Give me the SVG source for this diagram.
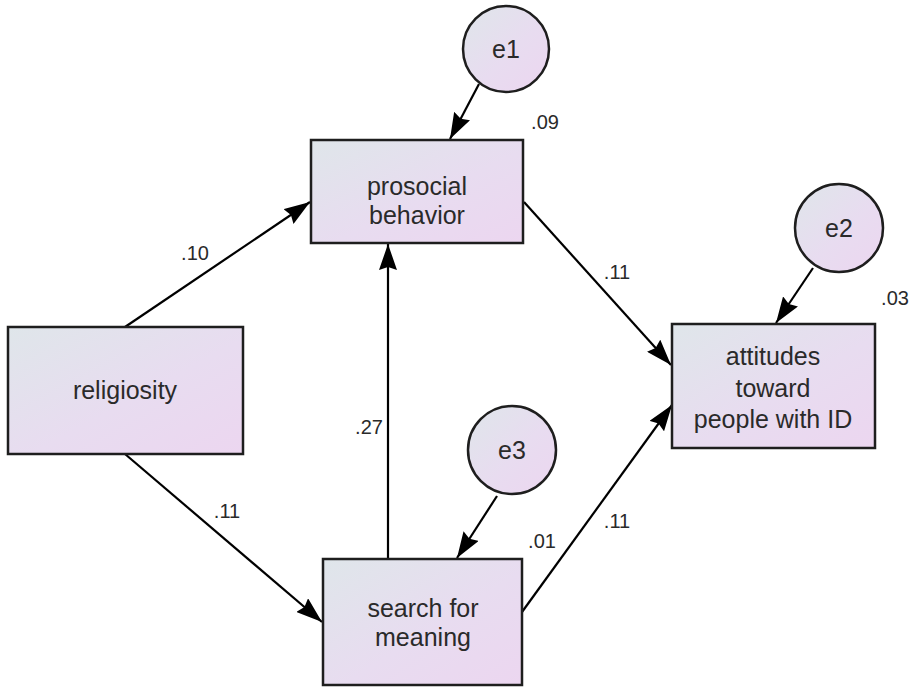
<svg xmlns="http://www.w3.org/2000/svg" width="913" height="687" viewBox="0 0 913 687">
<defs>
<linearGradient id="g" x1="0" y1="0" x2="1" y2="1">
<stop offset="0" stop-color="#dfe6ea"/>
<stop offset="0.55" stop-color="#e8dcf0"/>
<stop offset="1" stop-color="#ecd6f0"/>
</linearGradient>
<marker id="ah" viewBox="0 0 26 18" refX="26" refY="9" markerWidth="26" markerHeight="18" markerUnits="userSpaceOnUse" orient="auto">
<path d="M0,0 L26,9 L0,18 L3,9 Z" fill="#000"/>
</marker>
<style>
.box{fill:url(#g);stroke:#1e1e1e;stroke-width:2.5}
.lbl{font-family:"Liberation Sans",Arial,sans-serif;font-size:25px;fill:#2a2a2a;text-anchor:middle}
.num{font-family:"Liberation Sans",Arial,sans-serif;font-size:20px;fill:#2a2a2a;text-anchor:middle}
.edge{stroke:#000;stroke-width:2.2;fill:none;marker-end:url(#ah)}
</style>
</defs>
<rect width="913" height="687" fill="#fff"/>
<g id="connectors">
<line class="edge" x1="125" y1="327" x2="310" y2="202"/>
<line class="edge" x1="125" y1="454" x2="322" y2="622"/>
<line class="edge" x1="388" y1="559" x2="388" y2="244"/>
<line class="edge" x1="524" y1="202" x2="671" y2="365"/>
<line class="edge" x1="522" y1="612" x2="672" y2="405"/>
<line class="edge" x1="479" y1="84" x2="450" y2="139"/>
<line class="edge" x1="813" y1="268" x2="776" y2="323"/>
<line class="edge" x1="497" y1="496" x2="457" y2="558"/>
<text class="num" x="195" y="260">.10</text>
<text class="num" x="227" y="518">.11</text>
<text class="num" x="369" y="434">.27</text>
<text class="num" x="617" y="279">.11</text>
<text class="num" x="617" y="528">.11</text>
</g>
<g id="religiosity">
<rect class="box" x="8" y="327" width="235" height="127"/>
<text class="lbl" x="125" y="399">religiosity</text>
</g>
<g id="prosocial">
<rect class="box" x="311" y="140" width="212" height="103"/>
<text class="lbl" x="417" y="195">prosocial</text>
<text class="lbl" x="417" y="224">behavior</text>
<text class="num" x="545" y="129">.09</text>
</g>
<g id="search">
<rect class="box" x="323" y="559" width="199" height="126"/>
<text class="lbl" x="423" y="617">search for</text>
<text class="lbl" x="423" y="646">meaning</text>
<text class="num" x="542" y="548">.01</text>
</g>
<g id="attitudes">
<rect class="box" x="672" y="324" width="203" height="124"/>
<text class="lbl" x="773" y="365">attitudes</text>
<text class="lbl" x="773" y="397">toward</text>
<text class="lbl" x="773" y="428">people with ID</text>
<text class="num" x="895" y="305">.03</text>
</g>
<g id="e1">
<circle class="box" cx="506" cy="49" r="43"/>
<text class="lbl" x="506" y="58">e1</text>
</g>
<g id="e2">
<circle class="box" cx="839" cy="228" r="44"/>
<text class="lbl" x="839" y="237">e2</text>
</g>
<g id="e3">
<circle class="box" cx="512" cy="450" r="44"/>
<text class="lbl" x="512" y="459">e3</text>
</g>
</svg>
